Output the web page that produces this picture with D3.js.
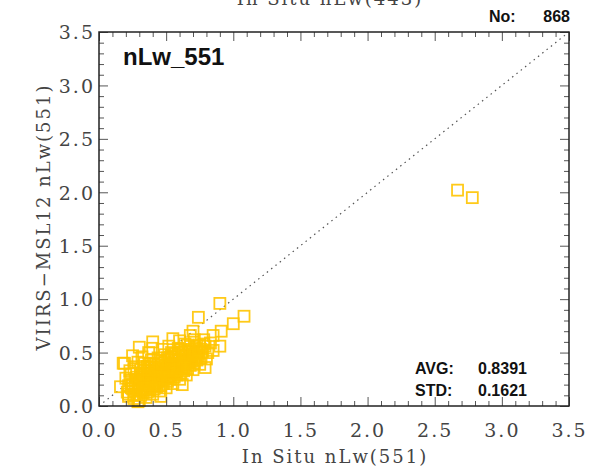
<!DOCTYPE html>
<html>
<head>
<meta charset="utf-8">
<script src="https://cdn.jsdelivr.net/npm/d3@7"></script>
<style>
  body { margin: 0; background: #fff; }
  .hershey { font-family: "DejaVu Serif", serif; fill: #444; }
  .bold { font-family: "Liberation Sans", Arial, sans-serif; font-weight: bold; fill: #111; }
</style>
</head>
<body>
<svg id="chart"></svg>
<script>
const WIDTH = 592;
const HEIGHT = 474;
const LEFT = 99, RIGHT = 569, TOP = 32, BOTTOM = 406;

// in situ nLw(551) vs VIIRS-MSL12 nLw(551)
const insitu = [
  0.21, 0.22, 0.20, 0.23, 0.19, 0.25, 0.22,
  0.26, 0.27, 0.25, 0.28, 0.26, 0.29, 0.24,
  0.30, 0.31, 0.32, 0.30, 0.33, 0.31, 0.34, 0.32,
  0.35, 0.36, 0.37, 0.35, 0.38, 0.36, 0.39, 0.37,
  0.40, 0.41, 0.42, 0.40, 0.43, 0.41, 0.44, 0.40,
  0.45, 0.46, 0.47, 0.45, 0.48, 0.46, 0.49, 0.47,
  0.50, 0.51, 0.52, 0.50, 0.53, 0.51, 0.54, 0.52,
  0.55, 0.56, 0.57, 0.55, 0.58, 0.56, 0.59,
  0.60, 0.61, 0.62, 0.60, 0.63, 0.61, 0.64, 0.60,
  0.65, 0.66, 0.67, 0.65, 0.68, 0.66, 0.68,
  0.70, 0.71, 0.72, 0.70, 0.73, 0.71,
  0.75, 0.76, 0.77, 0.75, 0.78,
  0.80, 0.81, 0.79, 0.83,
  0.24, 0.28, 0.29, 0.33, 0.34, 0.34, 0.38, 0.39, 0.39, 0.43, 0.43, 0.44,
  0.48, 0.48, 0.49, 0.53, 0.53, 0.54, 0.58, 0.58, 0.59, 0.63, 0.63, 0.64,
  0.68, 0.69, 0.73, 0.74, 0.27, 0.31, 0.36, 0.42, 0.47, 0.52, 0.57, 0.62, 0.67,
  0.23, 0.26, 0.28, 0.30, 0.32, 0.33, 0.35, 0.37, 0.38, 0.40, 0.42, 0.44,
  0.45, 0.47, 0.49, 0.50, 0.52, 0.54, 0.55, 0.57, 0.59, 0.61, 0.62, 0.64,
  0.66, 0.67, 0.69, 0.71, 0.72, 0.74, 0.76, 0.78, 0.25, 0.29, 0.33, 0.37,
  0.41, 0.46, 0.51, 0.56, 0.60, 0.65, 0.70, 0.34, 0.44, 0.54, 0.64,
  0.90, 0.74, 1.08, 1.00, 0.91, 0.90, 0.79, 0.18, 0.22, 0.29, 0.85, 0.62, 0.46,
  0.40, 0.55, 0.70, 0.85, 0.16, 0.30,
  2.67, 2.78
];
const viirs = [
  0.13, 0.19, 0.26, 0.33, 0.40, 0.47, 0.11,
  0.07, 0.14, 0.21, 0.27, 0.35, 0.41, 0.30,
  0.05, 0.10, 0.16, 0.22, 0.28, 0.34, 0.40, 0.46,
  0.08, 0.13, 0.19, 0.25, 0.31, 0.37, 0.43, 0.50,
  0.11, 0.16, 0.22, 0.28, 0.33, 0.39, 0.45, 0.54,
  0.14, 0.19, 0.25, 0.31, 0.36, 0.42, 0.48, 0.53,
  0.17, 0.23, 0.28, 0.34, 0.39, 0.45, 0.50, 0.56,
  0.21, 0.27, 0.32, 0.38, 0.43, 0.49, 0.54,
  0.25, 0.31, 0.36, 0.42, 0.47, 0.53, 0.58, 0.61,
  0.29, 0.35, 0.41, 0.46, 0.51, 0.57, 0.66,
  0.34, 0.40, 0.46, 0.51, 0.56, 0.62,
  0.39, 0.45, 0.51, 0.57, 0.62,
  0.44, 0.50, 0.56, 0.59,
  0.17, 0.11, 0.19, 0.12, 0.21, 0.33, 0.15, 0.26, 0.36, 0.18, 0.28, 0.38,
  0.21, 0.30, 0.41, 0.25, 0.34, 0.44, 0.29, 0.38, 0.48, 0.33, 0.40, 0.52,
  0.38, 0.45, 0.43, 0.50, 0.24, 0.29, 0.28, 0.31, 0.33, 0.37, 0.40, 0.44, 0.48,
  0.24, 0.10, 0.31, 0.14, 0.25, 0.37, 0.16, 0.23, 0.40, 0.20, 0.36, 0.24,
  0.29, 0.40, 0.26, 0.31, 0.43, 0.30, 0.35, 0.46, 0.34, 0.39, 0.50, 0.42,
  0.44, 0.53, 0.42, 0.48, 0.54, 0.47, 0.53, 0.58, 0.16, 0.25, 0.24, 0.34,
  0.20, 0.27, 0.26, 0.33, 0.37, 0.41, 0.49, 0.17, 0.23, 0.47, 0.36,
  0.96, 0.83, 0.84, 0.77, 0.70, 0.56, 0.36, 0.40, 0.09, 0.04, 0.66, 0.20, 0.09,
  0.60, 0.63, 0.70, 0.52, 0.18, 0.55,
  2.02, 1.95
];

const majorTicks = [0.0, 0.5, 1.0, 1.5, 2.0, 2.5, 3.0, 3.5];
const minorTicks = [0.1, 0.2, 0.3, 0.4, 0.6, 0.7, 0.8, 0.9, 1.1, 1.2, 1.3, 1.4,
  1.6, 1.7, 1.8, 1.9, 2.1, 2.2, 2.3, 2.4, 2.6, 2.7, 2.8, 2.9, 3.1, 3.2, 3.3, 3.4];

const bandLabel = "nLw_551";
const countLabel = "868";
const avgLabel = "0.8391";
const stdLabel = "0.1621";

const svg = d3.select("#chart")
  .attr("width", WIDTH)
  .attr("height", HEIGHT);

const x = d3.scaleLinear().domain([0, 3.5]).range([LEFT, RIGHT]);
const y = d3.scaleLinear().domain([0, 3.5]).range([BOTTOM, TOP]);

// cut-off title of the panel above (cut in the reference too)
svg.append("text")
  .attr("class", "hershey")
  .attr("x", 330).attr("y", 5)
  .attr("text-anchor", "middle")
  .attr("font-size", 18)
  .attr("letter-spacing", 2)
  .text("In Situ nLw(443)");

// 1:1 line
svg.append("line")
  .attr("x1", x(0)).attr("y1", y(0))
  .attr("x2", x(3.5)).attr("y2", y(3.5))
  .attr("stroke", "#555")
  .attr("stroke-width", 1.2)
  .attr("stroke-dasharray", "1.5 4");

const SQ = 11;
svg.append("g")
  .selectAll("rect")
  .data(insitu.map((v, i) => [v, viirs[i]]))
  .join("rect")
  .attr("x", d => x(d[0]) - SQ / 2)
  .attr("y", d => y(d[1]) - SQ / 2)
  .attr("width", SQ)
  .attr("height", SQ)
  .attr("fill", "none")
  .attr("stroke", "#ffc400")
  .attr("stroke-opacity", 0.9)
  .attr("stroke-width", 1.8);

const axes = [
  [d3.axisBottom(x), `translate(0,${BOTTOM})`],
  [d3.axisTop(x), `translate(0,${TOP})`],
  [d3.axisLeft(y), `translate(${LEFT},0)`],
  [d3.axisRight(y), `translate(${RIGHT},0)`]
];
axes.forEach(([ax, tr]) => {
  svg.append("g").attr("transform", tr)
    .call(ax.tickValues(minorTicks).tickSize(-5).tickFormat(""));
});

const bottomAxis = svg.append("g")
  .attr("transform", `translate(0,${BOTTOM})`)
  .call(d3.axisBottom(x).tickValues(majorTicks).tickSize(-9).tickPadding(18)
    .tickFormat(d3.format(".1f")));
const leftAxis = svg.append("g")
  .attr("transform", `translate(${LEFT},0)`)
  .call(d3.axisLeft(y).tickValues(majorTicks).tickSize(-9).tickPadding(4)
    .tickFormat(d3.format(".1f")));
svg.append("g")
  .attr("transform", `translate(0,${TOP})`)
  .call(d3.axisTop(x).tickValues(majorTicks).tickSize(-9).tickFormat(""));
svg.append("g")
  .attr("transform", `translate(${RIGHT},0)`)
  .call(d3.axisRight(y).tickValues(majorTicks).tickSize(-9).tickFormat(""));

svg.selectAll(".tick line").attr("stroke", "#555");
svg.selectAll(".domain").remove();
[bottomAxis, leftAxis].forEach(g => g.selectAll("text")
  .attr("class", "hershey")
  .attr("font-size", 19)
  .attr("letter-spacing", 2)
  .attr("fill", "#444"));
leftAxis.selectAll("text").attr("dy", "0.36em");

// frame
svg.append("rect")
  .attr("x", LEFT).attr("y", TOP)
  .attr("width", RIGHT - LEFT).attr("height", BOTTOM - TOP)
  .attr("fill", "none")
  .attr("stroke", "#222")
  .attr("stroke-width", 1.5);

svg.append("text")
  .attr("class", "hershey")
  .attr("x", 335).attr("y", 463)
  .attr("text-anchor", "middle")
  .attr("font-size", 18)
  .attr("letter-spacing", 2)
  .text("In Situ nLw(551)");

svg.append("text")
  .attr("class", "hershey")
  .attr("transform", "translate(50,217) rotate(-90)")
  .attr("text-anchor", "middle")
  .attr("font-size", 18)
  .attr("letter-spacing", 2)
  .text("VIIRS\u2212MSL12 nLw(551)");

svg.append("text").attr("class", "bold")
  .attr("x", 123).attr("y", 65)
  .attr("font-size", 24)
  .text(bandLabel);

svg.append("text").attr("class", "bold")
  .attr("x", 489).attr("y", 22).attr("font-size", 16).text("No:");
svg.append("text").attr("class", "bold")
  .attr("x", 570).attr("y", 22).attr("text-anchor", "end")
  .attr("font-size", 16).text(countLabel);

[["AVG:", avgLabel, 374], ["STD:", stdLabel, 396]].forEach(([k, v, yy]) => {
  svg.append("text").attr("class", "bold")
    .attr("x", 415).attr("y", yy).attr("font-size", 16).text(k);
  svg.append("text").attr("class", "bold")
    .attr("x", 478).attr("y", yy).attr("font-size", 16).text(v);
});
</script>
</body>
</html>
